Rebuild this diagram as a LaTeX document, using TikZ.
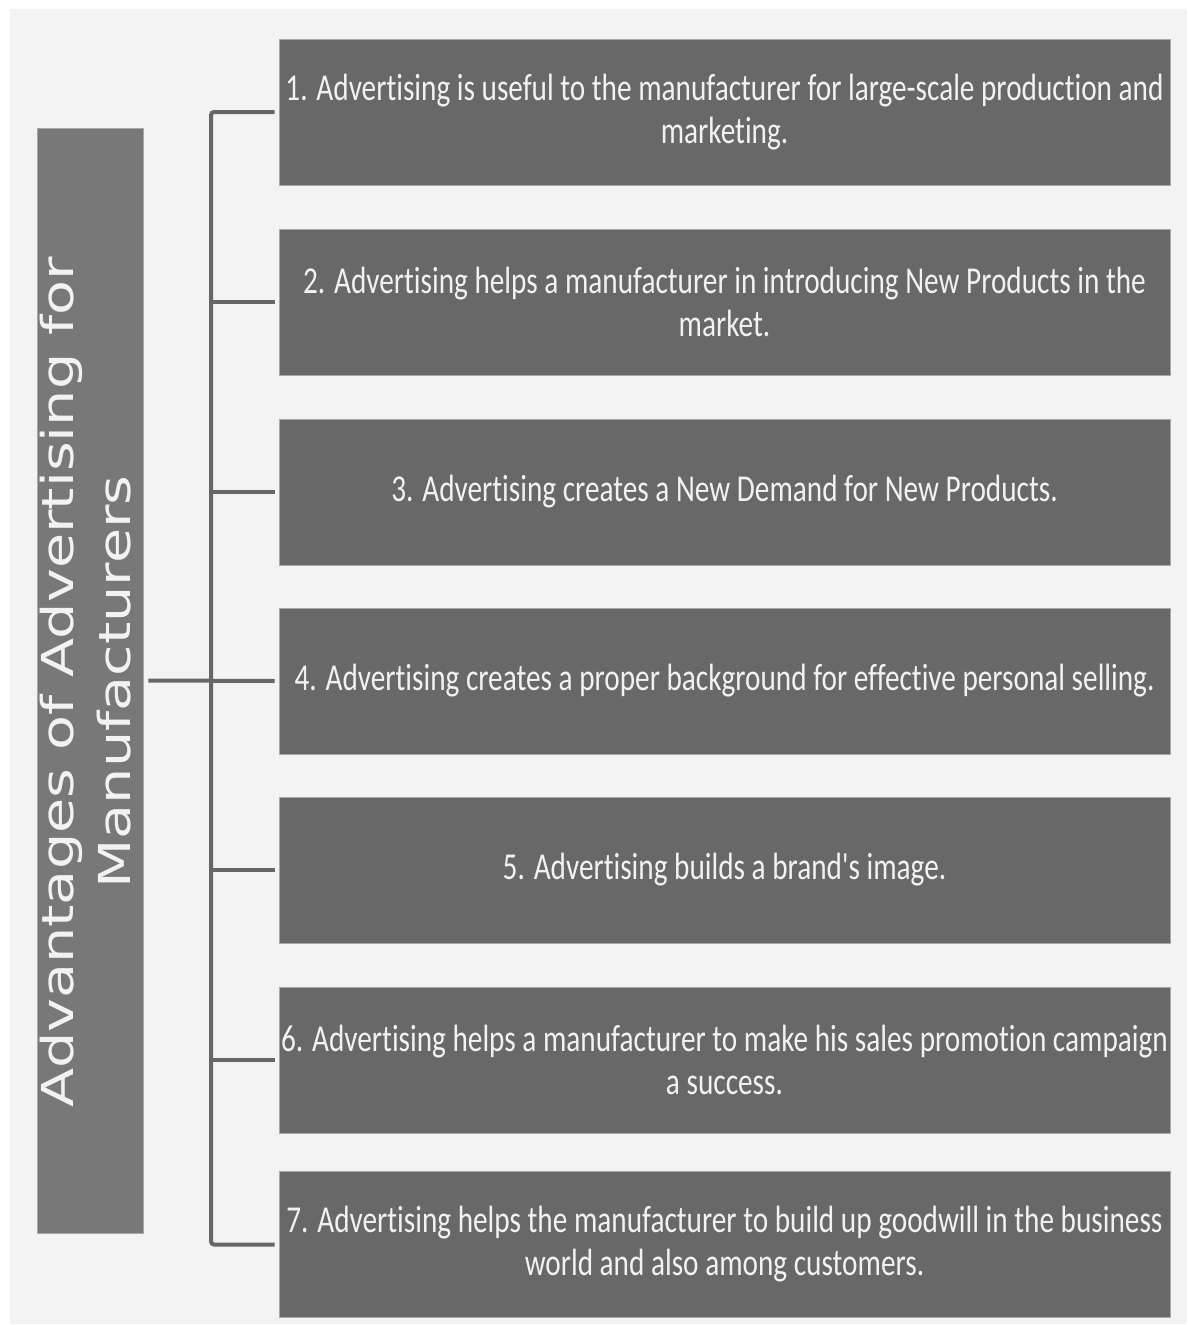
\documentclass[tikz,border=0pt]{standalone}
\usepackage{fontspec}
\setmainfont[FakeStretch=0.77, Ligatures=TeXOff, RawFeature={-liga}]{Carlito}
\newfontfamily\titlefont[FakeStretch=1.3]{DejaVu Sans}
\definecolor{bgc}{HTML}{F3F3F3}
\definecolor{boxc}{HTML}{686868}
\definecolor{leftc}{HTML}{787878}
\definecolor{edgec}{HTML}{A8A8A8}
\definecolor{txtc}{HTML}{F2F2F2}
\definecolor{linec}{HTML}{666666}
\tikzset{
  itembox/.style={draw=edgec, line width=0.8pt, fill=boxc, minimum width=891pt, minimum height=146pt,
    inner sep=0pt, text=txtc, align=center, font=\fontsize{38}{43}\selectfont},
  titlebox/.style={draw=edgec, line width=0.8pt, fill=leftc, minimum width=106pt, minimum height=1105pt, inner sep=0pt},
  conn/.style={draw=linec, line width=4pt}
}
\begin{document}
\begin{tikzpicture}[x=1pt,y=-1pt]
\useasboundingbox (0,0) rectangle (1187,1325);
\fill[bgc] (10,9) rectangle (1187,1324);
\node[titlebox] (left) at (90,680.5) {};
\node[rotate=90, text=txtc, align=center, inner sep=0pt, font=\titlefont\fontsize{44}{57}\selectfont] (title) at (86,682)
  {Advantages of Advertising for\\Manufacturers};
\node[itembox] (b1) at (724.5,112) {1. Advertising is useful to the manufacturer for large-scale production and\\marketing.};
\node[itembox] (b2) at (724.5,302) {2. Advertising helps a manufacturer in introducing New Products in the\\market.};
\node[itembox] (b3) at (724.5,492) {3. Advertising creates a New Demand for New Products.};
\node[itembox] (b4) at (724.5,681) {4. Advertising creates a proper background for effective personal selling.};
\node[itembox] (b5) at (724.5,870) {5. Advertising builds a brand{\char"0027}s image.};
\node[itembox] (b6) at (724.5,1060) {6. Advertising helps a manufacturer to make his sales promotion campaign\\a success.};
\node[itembox] (b7) at (724.5,1244.5) {7. Advertising helps the manufacturer to build up goodwill in the business\\world and also among customers.};
\coordinate (sp) at (211,681);
\draw[conn, rounded corners=3pt] ([xshift=-4pt]b1.west) -| (sp) |- ([xshift=-4pt]b7.west);
\foreach \i in {2,3,5,6} {
  \draw[conn] (sp |- b\i.west) -- ([xshift=-4pt]b\i.west);
}
\draw[conn] ([xshift=5pt]left.east) -- ([xshift=-4pt]b4.west);
\end{tikzpicture}
\end{document}
